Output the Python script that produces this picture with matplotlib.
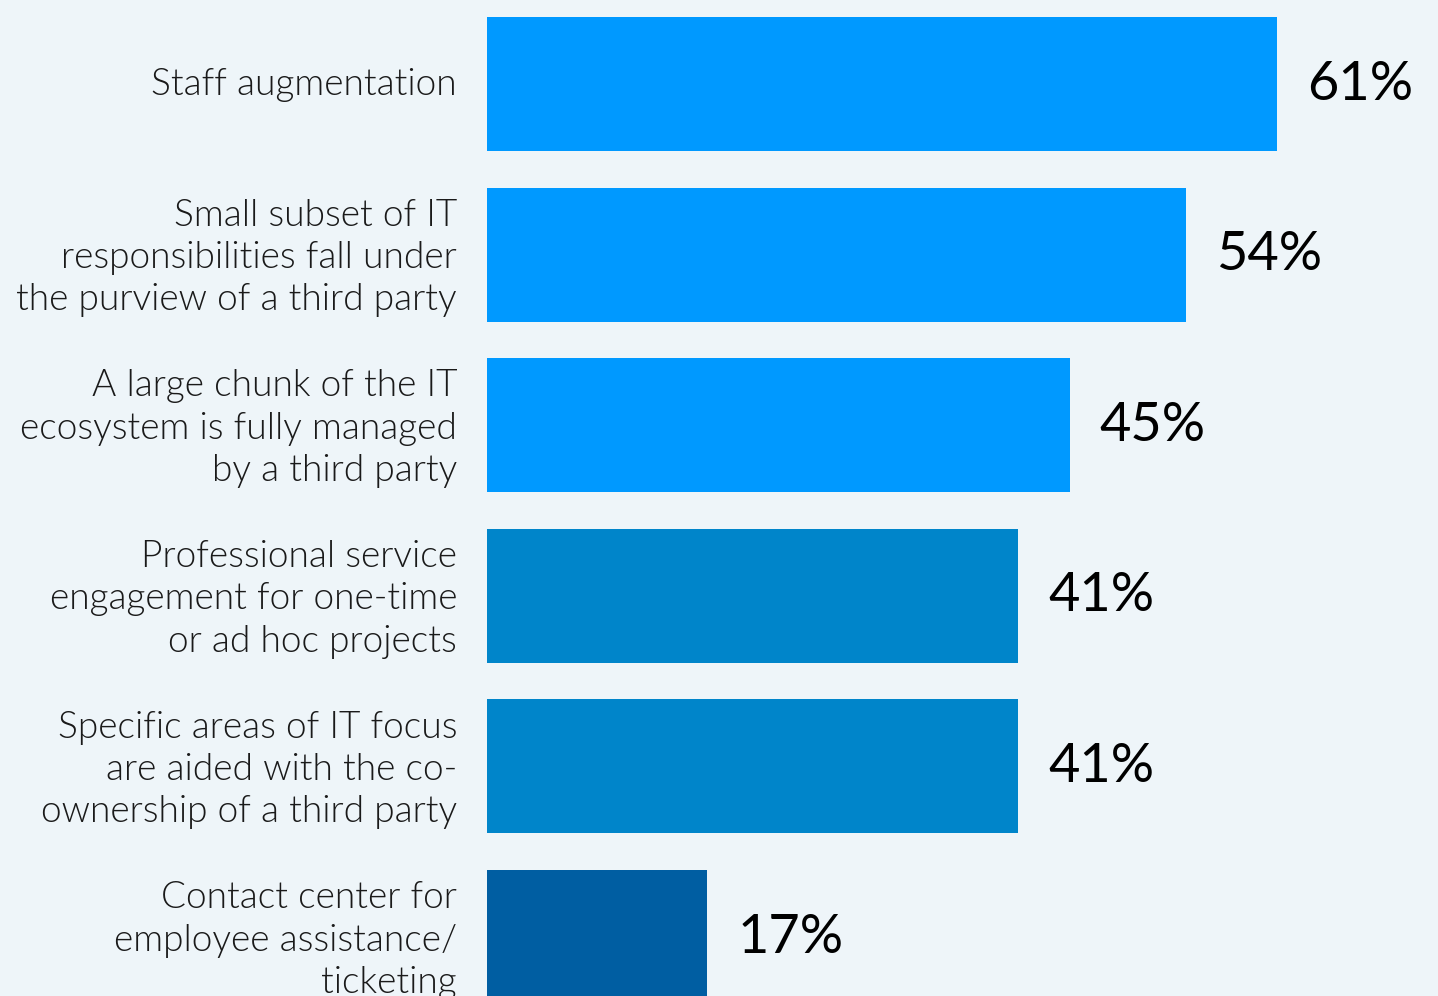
import matplotlib
matplotlib.use('Agg')
import matplotlib.pyplot as plt

# ---- data ----
categories = [
    'Staff augmentation',
    'Small subset of IT\nresponsibilities fall under\nthe purview of a third party',
    'A large chunk of the IT\necosystem is fully managed\nby a third party',
    'Professional service\nengagement for one-time\nor ad hoc projects',
    'Specific areas of IT focus\nare aided with the co-\nownership of a third party',
    'Contact center for\nemployee assistance/\nticketing',
]
values = [61, 54, 45, 41, 41, 17]
bar_colors = ['#0099FF', '#0099FF', '#0099FF', '#0085CA', '#0085CA', '#005EA2']

BG = '#EEF5F9'
PX_PER_UNIT = 12.95     # horizontal scale
PITCH = 170.6           # vertical px per row
W, H = 1438, 996
X0 = 487                # bar baseline in px
Y0 = 84                 # first bar centre in px

fig = plt.figure(figsize=(W / 100, H / 100), dpi=100, facecolor=BG)
ax = fig.add_axes([0, 0, 1, 1])
ax.set_facecolor(BG)

ax.set_xlim(-X0 / PX_PER_UNIT, (W - X0) / PX_PER_UNIT)
ax.set_ylim((H - Y0) / PITCH, -Y0 / PITCH)

ypos = range(len(values))
ax.barh(ypos, values, height=134 / PITCH, color=bar_colors, left=0)

for y, v, lab in zip(ypos, values, categories):
    nudge = (1 if '\n' not in lab else 3.5) / PITCH
    ax.text(-30 / PX_PER_UNIT, y + nudge, lab, ha='right', va='center',
            family=['Lato', 'DejaVu Sans'], fontweight=300, fontsize=26.7,
            color='#1A1A1A', linespacing=1.31)
    ax.text(v + 30 / PX_PER_UNIT, y, f'{v}%', ha='left', va='center',
            family=['Lato', 'DejaVu Sans'], fontsize=39, color='#000000')

ax.axis('off')
fig.savefig('out.png', dpi=100, facecolor=BG)
